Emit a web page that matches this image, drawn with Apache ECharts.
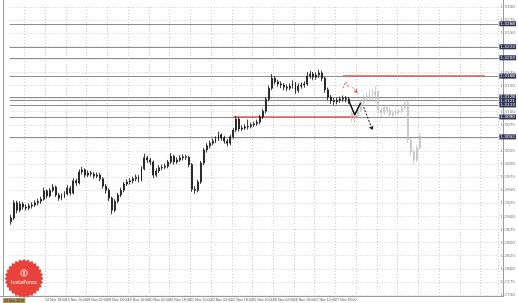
<!DOCTYPE html>
<html><head><meta charset="utf-8">
<script src="https://cdn.jsdelivr.net/npm/echarts@6/dist/echarts.min.js"></script>
<style>html,body{margin:0;padding:0;background:#fff}#c{width:518px;height:303px}</style>
</head><body><div id="c"></div>
<script>
// ---- tick labels ----
const dateLabels = ["13 Nov 2019","14 Nov 02:00","14 Nov 18:00","15 Nov 10:00","18 Nov 02:00","18 Nov 18:00","19 Nov 10:00","20 Nov 02:00","20 Nov 18:00","21 Nov 10:00","22 Nov 02:00","22 Nov 18:00","25 Nov 10:00","26 Nov 02:00","26 Nov 18:00","27 Nov 10:00","27 Nov 18:00"];
const yMin = 1.2750, yMax = 1.3300, yStep = 0.0025;
const slotCount = 165;

// ---- price history [open, close, low, high] ----
const candles = [
[1.2890,1.2897,1.2884,1.2903],[1.2897,1.2926,1.2893,1.2931],[1.2926,1.2912,1.2906,1.2930],[1.2912,1.2924,1.2908,1.2929],
[1.2924,1.2918,1.2913,1.2928],[1.2918,1.2916,1.2911,1.2923],[1.2916,1.2920,1.2912,1.2925],[1.2920,1.2922,1.2915,1.2927],
[1.2922,1.2926,1.2918,1.2931],[1.2926,1.2929,1.2921,1.2934],[1.2929,1.2933,1.2924,1.2938],[1.2933,1.2949,1.2930,1.2955],
[1.2949,1.2939,1.2934,1.2952],[1.2939,1.2950,1.2936,1.2954],[1.2950,1.2956,1.2946,1.2962],[1.2956,1.2941,1.2937,1.2959],
[1.2941,1.2935,1.2930,1.2945],[1.2935,1.2939,1.2931,1.2944],[1.2939,1.2943,1.2935,1.2948],[1.2943,1.2954,1.2940,1.2960],
[1.2954,1.2945,1.2940,1.2958],[1.2945,1.2968,1.2942,1.2973],[1.2968,1.2964,1.2958,1.2972],[1.2964,1.2985,1.2961,1.2990],
[1.2985,1.2989,1.2980,1.2995],[1.2989,1.2979,1.2974,1.2992],[1.2979,1.2983,1.2975,1.2988],[1.2983,1.2981,1.2976,1.2987],
[1.2981,1.2977,1.2972,1.2985],[1.2977,1.2979,1.2973,1.2984],[1.2979,1.2972,1.2967,1.2983],[1.2972,1.2958,1.2953,1.2975],
[1.2958,1.2950,1.2944,1.2962],[1.2950,1.2935,1.2929,1.2954],[1.2935,1.2912,1.2904,1.2938],[1.2912,1.2929,1.2908,1.2933],
[1.2929,1.2941,1.2925,1.2945],[1.2941,1.2950,1.2937,1.2955],[1.2950,1.2962,1.2946,1.2966],[1.2962,1.2966,1.2958,1.2971],
[1.2966,1.2968,1.2961,1.2973],[1.2968,1.2972,1.2963,1.2976],[1.2972,1.2975,1.2967,1.2980],[1.2975,1.2970,1.2965,1.2979],
[1.2970,1.2991,1.2967,1.2996],[1.2991,1.3012,1.2988,1.3020],[1.3012,1.3008,1.3002,1.3016],[1.3008,1.3004,1.2998,1.3012],
[1.3004,1.2979,1.2973,1.3007],[1.2979,1.2987,1.2975,1.2992],[1.2987,1.2993,1.2983,1.2998],[1.2993,1.2994,1.2988,1.2999],
[1.2994,1.2996,1.2990,1.3001],[1.2996,1.3004,1.2992,1.3008],[1.3004,1.3015,1.3000,1.3021],[1.3015,1.3004,1.2999,1.3018],
[1.3004,1.3008,1.3000,1.3013],[1.3008,1.3012,1.3004,1.3017],[1.3012,1.3014,1.3007,1.3019],[1.3014,1.3013,1.3008,1.3018],
[1.3013,1.2999,1.2994,1.3016],[1.2999,1.2952,1.2947,1.3002],[1.2952,1.2950,1.2943,1.2958],[1.2950,1.2966,1.2946,1.2970],
[1.2966,1.3002,1.2962,1.3006],[1.3002,1.3027,1.2998,1.3031],[1.3027,1.3035,1.3022,1.3040],[1.3035,1.3040,1.3030,1.3045],
[1.3040,1.3044,1.3036,1.3049],[1.3044,1.3048,1.3040,1.3053],[1.3048,1.3056,1.3044,1.3062],[1.3056,1.3050,1.3045,1.3059],
[1.3050,1.3044,1.3039,1.3054],[1.3044,1.3040,1.3034,1.3048],[1.3040,1.3052,1.3036,1.3056],[1.3052,1.3065,1.3048,1.3069],
[1.3065,1.3086,1.3061,1.3092],[1.3086,1.3067,1.3062,1.3090],[1.3067,1.3069,1.3063,1.3074],[1.3069,1.3071,1.3065,1.3076],
[1.3071,1.3072,1.3066,1.3085],[1.3072,1.3075,1.3068,1.3079],[1.3075,1.3077,1.3071,1.3081],[1.3077,1.3080,1.3073,1.3085],
[1.3080,1.3090,1.3076,1.3094],[1.3090,1.3101,1.3086,1.3105],[1.3101,1.3124,1.3097,1.3128],[1.3124,1.3145,1.3120,1.3150],
[1.3145,1.3164,1.3141,1.3172],[1.3164,1.3157,1.3152,1.3168],[1.3157,1.3153,1.3148,1.3161],[1.3153,1.3151,1.3145,1.3158],
[1.3151,1.3147,1.3141,1.3155],[1.3147,1.3145,1.3139,1.3152],[1.3145,1.3149,1.3141,1.3154],[1.3149,1.3153,1.3144,1.3160],
[1.3153,1.3140,1.3134,1.3157],[1.3140,1.3149,1.3136,1.3154],[1.3149,1.3151,1.3144,1.3156],[1.3151,1.3153,1.3146,1.3158],
[1.3153,1.3168,1.3149,1.3176],[1.3168,1.3172,1.3163,1.3178],[1.3172,1.3166,1.3160,1.3176],[1.3166,1.3170,1.3161,1.3175],
[1.3170,1.3174,1.3165,1.3180],[1.3174,1.3164,1.3158,1.3178],[1.3164,1.3142,1.3136,1.3167],[1.3142,1.3128,1.3122,1.3146],
[1.3128,1.3121,1.3115,1.3132],[1.3121,1.3119,1.3113,1.3126],[1.3119,1.3122,1.3114,1.3127],[1.3122,1.3124,1.3117,1.3129],
[1.3124,1.3126,1.3119,1.3131],[1.3126,1.3124,1.3118,1.3130],[1.3124,1.3121,1.3115,1.3128]
];
// ---- projected (grey) path [open, close, low, high] ----
const ghostStart = 115;
const ghostCandles = [
[1.3096,1.3092,1.3080,1.3100],[1.3092,1.3090,1.3079,1.3097],[1.3090,1.3103,1.3086,1.3107],[1.3103,1.3117,1.3099,1.3122],
[1.3117,1.3126,1.3112,1.3133],[1.3126,1.3130,1.3120,1.3137],[1.3130,1.3136,1.3124,1.3142],[1.3136,1.3132,1.3122,1.3144],
[1.3132,1.3138,1.3118,1.3148],[1.3138,1.3103,1.3097,1.3141],[1.3103,1.3098,1.3090,1.3108],[1.3098,1.3109,1.3094,1.3114],
[1.3109,1.3103,1.3096,1.3113],[1.3103,1.3094,1.3088,1.3107],[1.3094,1.3098,1.3090,1.3103],[1.3098,1.3100,1.3093,1.3105],
[1.3100,1.3101,1.3095,1.3106],[1.3101,1.3107,1.3097,1.3111],[1.3107,1.3117,1.3103,1.3122],[1.3117,1.3046,1.3040,1.3120],
[1.3046,1.3023,1.3016,1.3050],[1.3023,1.3008,1.2999,1.3028],[1.3008,1.3031,1.3004,1.3036],[1.3031,1.3054,1.3027,1.3058]
];
// ---- horizontal levels ----
const levels = [1.3268, 1.3224, 1.3203, 1.3168, 1.3128, 1.3121, 1.3113, 1.3090, 1.3052];
const redLevels = [[112, 160, 1.3168], [75, 117, 1.3090]];
// ---- drawn forecast paths [slot, price] ----
const pathBlack = [[114,1.3121],[116,1.3094],[118,1.3117]];
const arrowBlack = [[119,1.3109],[122,1.3065]];
const arrowRedA = [[112,1.3145],[113,1.3157],[114,1.3147]];
const arrowRedB = [[115,1.3147],[117,1.3136]];

const cats = Array.from({length: slotCount}, (_, i) => String(i));
const histData = cats.map((_, i) => i < candles.length ? candles[i] : '-');
const ghostData = cats.map((_, i) => (i >= ghostStart && i < ghostStart + ghostCandles.length) ? ghostCandles[i - ghostStart] : '-');

const levelMarks = levels.map(v => ({
  yAxis: v,
  lineStyle: {color: '#8e8e8e', width: 1, type: 'solid'},
  label: {show: true, position: 'end', distance: 1, formatter: () => v.toFixed(4),
    backgroundColor: '#2e3152', color: '#fff', fontSize: 4.2, padding: [0.5, 1], fontFamily: 'DejaVu Sans'}
}));
const redMarks = redLevels.map(r => [
  {coord: [r[0], r[2]], symbol: 'none', lineStyle: {color: '#e85a5e', width: 1.5, type: 'solid'}, label: {show: false}},
  {coord: [r[1], r[2]], symbol: 'none', lineStyle: {color: '#e85a5e', width: 1.5, type: 'solid'}, label: {show: false}}
]);
const arrowMark = (seg, color) => [
  {coord: seg[0], symbol: 'none', lineStyle: {color: color, width: 1, type: [2, 1.5]}, label: {show: false}},
  {coord: seg[1], symbol: 'arrow', symbolSize: 4, lineStyle: {color: color, width: 1, type: [2, 1.5]}, label: {show: false}}
];

// logo seal outline (decoration)
const sealPts = [];
for (let k = 0; k < 56; k++) {
  const a = k / 56 * Math.PI * 2, r = (k % 2 === 0) ? 19.5 : 17.5;
  sealPts.push([24 + r * Math.cos(a), 278.5 + r * Math.sin(a)]);
}

const labelFont = "'Liberation Sans Narrow', 'Liberation Sans', sans-serif";
const chart = echarts.init(document.getElementById('c'), null, {renderer: 'canvas'});
chart.setOption({
  animation: false,
  backgroundColor: '#ffffff',
  grid: {left: 3, right: 15, top: 7, bottom: 8, containLabel: false},
  xAxis: {
    type: 'category', data: cats, boundaryGap: true,
    axisLine: {show: false}, axisTick: {show: false},
    axisLabel: {
      interval: (i) => i % 7 === 1, margin: 3, fontSize: 3.6, color: '#555', fontFamily: labelFont,
      showMinLabel: true,
      formatter: (v) => {
        const k = (Number(v) - 1) / 7;
        if (k === 0) return '{d|' + dateLabels[0] + '}';
        return dateLabels[k] || '';
      },
      rich: {d: {backgroundColor: '#a8955e', color: '#222', fontSize: 3.6, padding: [0.5, 1], fontFamily: labelFont}}
    },
    splitLine: {show: true, interval: (i) => i % 7 === 5, lineStyle: {color: '#cfcfcf', type: [1, 2], width: 1}}
  },
  yAxis: {
    type: 'value', position: 'right', scale: true, min: yMin, max: yMax, interval: yStep,
    axisLine: {show: false}, axisTick: {show: false},
    axisLabel: {margin: 2, fontSize: 4.2, color: '#777', fontFamily: 'DejaVu Sans', formatter: v => v.toFixed(4)},
    splitLine: {show: true, lineStyle: {color: '#cfcfcf', type: [1, 2], width: 1}}
  },
  series: [
    {
      type: 'candlestick', data: histData, barWidth: 1.4, z: 3,
      itemStyle: {color: '#333', color0: '#111', borderColor: '#111', borderColor0: '#111', borderWidth: 0.8},
      markLine: {
        silent: true, symbol: ['none', 'none'], animation: false, z: 2, precision: 4,
        data: levelMarks.concat(redMarks, [arrowMark(arrowBlack, '#111'), arrowMark(arrowRedB, '#e85a5e')])
      }
    },
    {
      type: 'candlestick', data: ghostData, barWidth: 1.4, z: 2,
      itemStyle: {color: '#c4c4c4', color0: '#c4c4c4', borderColor: '#c4c4c4', borderColor0: '#c4c4c4', borderWidth: 0.8}
    },
    {type: 'line', data: pathBlack, symbol: 'none', z: 4, lineStyle: {color: '#111', width: 1.5}},
    {type: 'line', data: arrowRedA, symbol: 'none', z: 4, lineStyle: {color: '#e85a5e', width: 1, type: [2, 1.5]}}
  ],
  graphic: [
    {type: 'line', shape: {x1: 3.5, y1: 0, x2: 3.5, y2: 297}, style: {stroke: '#9a9a9a', lineWidth: 1}, silent: true},
    {type: 'line', shape: {x1: 0, y1: 296.5, x2: 503, y2: 296.5}, style: {stroke: '#9a9a9a', lineWidth: 1}, silent: true},
    {type: 'line', shape: {x1: 503.5, y1: 0, x2: 503.5, y2: 297}, style: {stroke: '#9a9a9a', lineWidth: 1}, silent: true},
    {type: 'polygon', shape: {points: sealPts}, style: {fill: '#e8433b'}, z: 50, silent: true},
    {type: 'circle', shape: {cx: 24, cy: 273, r: 3.2}, style: {fill: 'none', stroke: '#fff', lineWidth: 0.8}, z: 51, silent: true},
    {type: 'rect', shape: {x: 23.4, y: 271, width: 1.2, height: 4}, style: {fill: '#fff'}, z: 51, silent: true},
    {type: 'text', x: 24, y: 280, style: {text: 'InstaForex', fill: '#fff', fontSize: 5, fontFamily: 'DejaVu Sans', align: 'center'}, z: 51, silent: true}
  ]
});
</script></body></html>
